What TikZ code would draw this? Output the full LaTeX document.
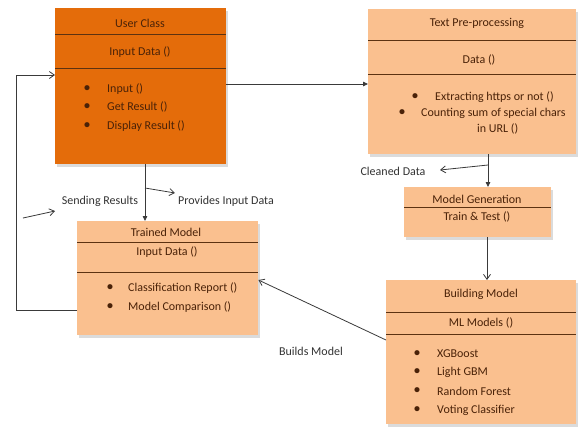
\documentclass[tikz,border=0pt]{standalone}
\usepackage{fontspec}
\setmainfont{Carlito}
\usetikzlibrary{arrows.meta,shadows}
\definecolor{deeporange}{HTML}{E46C0A}
\definecolor{peach}{HTML}{FAC08F}
\definecolor{inkbrown}{HTML}{4A2208}
\definecolor{rulebrown}{HTML}{5C3211}
\definecolor{wire}{HTML}{3A3A3A}
\tikzset{
  classbox/.style={anchor=north west, inner sep=0pt, draw=none,
    drop shadow={shadow xshift=1.5pt, shadow yshift=-2.5pt, fill=gray!55}},
  mainbox/.style={classbox, fill=deeporange},
  lightbox/.style={classbox, fill=peach},
  divider/.style={draw=rulebrown, line width=0.9pt},
  boxtext/.style={font=\fontsize{12}{14}\selectfont, text=inkbrown, inner sep=0pt},
  itemtext/.style={boxtext, anchor=west},
  bulletmark/.style={boxtext, font=\fontsize{12}{14}\selectfont\bfseries},
  tag/.style={font=\fontsize{12}{14}\selectfont, text=black!80, inner sep=1pt},
  wireline/.style={draw=wire, line width=0.8pt},
  solidtip/.style={wireline, -{Triangle[length=5pt,width=4.5pt]}},
  opentip/.style={wireline, -{Straight Barb[length=5pt,width=7pt]}}
}
\begin{document}
\begin{tikzpicture}[x=1pt,y=-1pt]
\useasboundingbox (0,0) rectangle (584,429);
\fill[white] (0,0) rectangle (584,429);

% ---- User Class
\node[mainbox, minimum width=171pt, minimum height=156pt] (user) at (55,8) {};
\draw[divider] (55,34) -- (226,34);
\draw[divider] (55,68) -- (226,68);
\node[boxtext] (userT) at (140,23) {User Class};
\node[boxtext] (userA) at (140,52) {Input Data ()};
\node[bulletmark] (ub1) at (87,89) {•};
\node[itemtext] (ui1) at (107,89) {Input ()};
\node[bulletmark] (ub2) at (87,107) {•};
\node[itemtext] (ui2) at (107,107) {Get Result ()};
\node[bulletmark] (ub3) at (87,126) {•};
\node[itemtext] (ui3) at (107,126) {Display Result ()};

% ---- Text Pre-processing
\node[lightbox, minimum width=208pt, minimum height=145pt] (pre) at (368,9) {};
\draw[divider] (368,40) -- (576,40);
\draw[divider] (368,74) -- (576,74);
\node[boxtext] (preT) at (477,23) {Text Pre-processing};
\node[boxtext] (preA) at (479,60) {Data ()};
\node[bulletmark] (pb1) at (415,97) {•};
\node[itemtext] (pi1) at (435,97) {Extracting https or not ()};
\node[bulletmark] (pb2) at (402,113) {•};
\node[itemtext] (pi2) at (421,113) {Counting sum of special chars};
\node[itemtext] (pi3) at (477,129) {in URL ()};

% ---- Model Generation
\node[lightbox, minimum width=147pt, minimum height=50pt] (mg) at (404,187) {};
\draw[divider] (404,207) -- (551,207);
\node[boxtext] (mgT) at (477,199) {Model Generation};
\node[boxtext] (mgA) at (477,217) {Train \& Test ()};

% ---- Building Model
\node[lightbox, minimum width=190pt, minimum height=144pt] (bm) at (386,280) {};
\draw[divider] (386,312) -- (576,312);
\draw[divider] (386,334) -- (576,334);
\node[boxtext] (bmT) at (481,294) {Building Model};
\node[boxtext] (bmA) at (481,323) {ML Models ()};
\node[bulletmark] (bb1) at (417,354) {•};
\node[itemtext] (bi1) at (437,354) {XGBoost};
\node[bulletmark] (bb2) at (417,372) {•};
\node[itemtext] (bi2) at (437,372) {Light GBM};
\node[bulletmark] (bb3) at (417,391) {•};
\node[itemtext] (bi3) at (437,391) {Random Forest};
\node[bulletmark] (bb4) at (417,410) {•};
\node[itemtext] (bi4) at (437,410) {Voting Classifier};

% ---- Trained Model
\node[lightbox, minimum width=181pt, minimum height=114pt] (tm) at (77,221) {};
\draw[divider] (77,242) -- (258,242);
\draw[divider] (77,272) -- (258,272);
\node[boxtext] (tmT) at (166,232) {Trained Model};
\node[boxtext] (tmA) at (167,252) {Input Data ()};
\node[bulletmark] (tb1) at (110,288) {•};
\node[itemtext] (ti1) at (128,288) {Classification Report ()};
\node[bulletmark] (tb2) at (110,307) {•};
\node[itemtext] (ti2) at (128,307) {Model Comparison ()};

% ---- connectors
\draw[solidtip] (user.east |- 0,84) -- (pre.west |- 0,84);

\coordinate (cdfork) at (488,165);
\coordinate (cdtip) at (440,170);
\draw[solidtip] (pre.south -| 488,0) -- (mg.north -| 488,0);
\draw[opentip] (cdfork) -- (cdtip);
\node[tag] (cdlab) at (393,171) {Cleaned Data};

\draw[opentip] (mg.south -| 487,0) -- (bm.north -| 487,0);

\draw[opentip] (bm.west |- 0,340) -- (tm.east |- 0,280);
\node[tag] (bmlab) at (311,351) {Builds Model};

\coordinate (pifork) at (145,188);
\coordinate (pitip) at (175,193);
\draw[solidtip] (user.south -| 145,0) -- (tm.north -| 145,0);
\draw[opentip] (pifork) -- (pitip);
\node[tag] (pilab) at (226,201) {Provides Input Data};

\coordinate (srtail) at (23,218);
\coordinate (srtip) at (55,211);
\draw[opentip] (srtail) -- (srtip);
\node[tag] (srlab) at (100,201) {Sending Results};

\coordinate (loopA) at (16,310);
\coordinate (loopB) at (16,75);
\draw[opentip] (tm.west |- 0,310) -- (loopA) -- (loopB) -- (user.west |- 0,75);
\end{tikzpicture}
\end{document}
